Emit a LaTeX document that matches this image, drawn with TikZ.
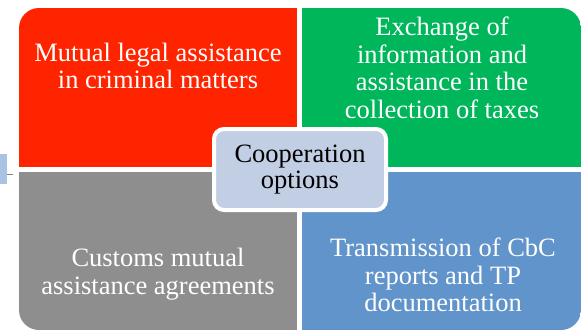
\documentclass[tikz,border=0pt]{standalone}
\usepackage{fontspec}
\setmainfont{Liberation Serif}
\usetikzlibrary{positioning}

\definecolor{legalred}{RGB}{255,36,0}
\definecolor{taxgreen}{RGB}{0,182,90}
\definecolor{customsgray}{RGB}{142,142,142}
\definecolor{cbcblue}{RGB}{96,148,202}
\definecolor{optionsfill}{RGB}{193,206,228}
\definecolor{sideblue}{RGB}{168,196,226}

\tikzset{
    quadrant/.style={rectangle, anchor=north west, inner sep=0pt},
    quadtext/.style={align=center, text=white, font=\fontsize{26.5}{27.5}\selectfont},
    optionsbox/.style={rectangle, rounded corners=10pt, draw=white, line width=4pt, fill=optionsfill, minimum width=172pt, minimum height=81pt, align=center, inner sep=0pt, font=\fontsize{26.5}{26.5}\selectfont}
}

\begin{document}
\begin{tikzpicture}[x=1pt, y=-1pt]
        \useasboundingbox (0,0) rectangle (587,333);

        % bits of the neighbouring slide content
        \node[rectangle, fill=sideblue, inner sep=0pt, minimum width=7pt, minimum height=30pt, anchor=north west] (sidetab) at (0,154) {};
        \coordinate (tickend) at (13,174);
        \draw[gray, line width=0.6pt] (sidetab.east |- tickend) -- (tickend);

        % four quadrants, outer corners rounded by the clip
        \begin{scope}
            \clip[rounded corners=20pt] (19,8) rectangle (581,330);
            \node[quadrant, fill=legalred, minimum width=278pt, minimum height=159pt] (legal) at (19,8) {};
            \node[quadrant, fill=taxgreen, minimum width=279pt, minimum height=159pt] (tax) at (302,8) {};
            \node[quadrant, fill=customsgray, minimum width=278pt, minimum height=158pt] (customs) at (19,172) {};
            \node[quadrant, fill=cbcblue, minimum width=279pt, minimum height=158pt] (cbc) at (302,172) {};
        \end{scope}

        \node[quadtext] (legaltext) at (158,66) {Mutual legal assistance\\in criminal matters};
        \node[quadtext] (taxtext) at (442,68) {Exchange of\\information and\\assistance in the\\collection of taxes};
        \node[quadtext] (customstext) at (158,274) {Customs mutual\\assistance agreements};
        \node[quadtext] (cbctext) at (443,275) {Transmission of CbC\\reports and TP\\documentation};

        % centre label
        \node[optionsbox] (options) at (300,169.5) {Cooperation\\options};
    \end{tikzpicture}
\end{document}
